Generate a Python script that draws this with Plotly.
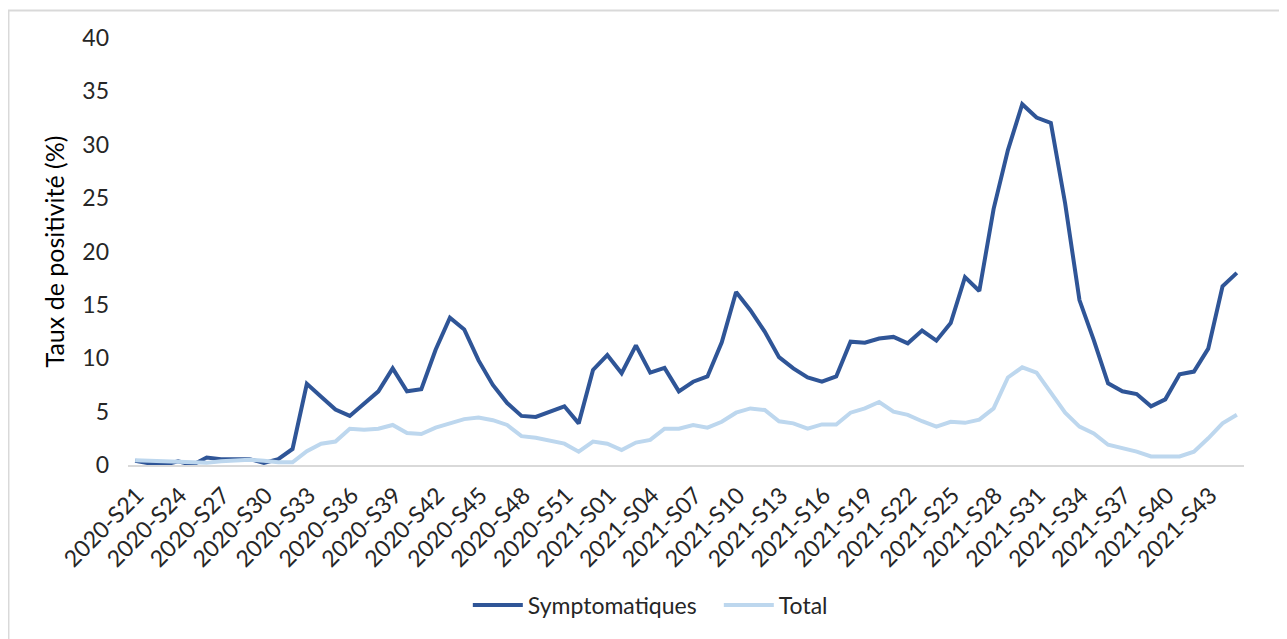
import plotly.graph_objects as go

# Categories: 2020-S21 .. 2020-S53, 2021-S01 .. 2021-S45
weeks = [f"2020-S{w:02d}" for w in range(21, 54)] + [f"2021-S{w:02d}" for w in range(1, 46)]

symptomatiques = [
    0.4, 0.15, 0.0, 0.35, 0.0, 0.7, 0.55, 0.55, 0.55, 0.2,
    0.55, 1.5, 7.6, 6.4, 5.2, 4.6, 5.7, 6.9, 9.05, 6.9,
    7.1, 10.8, 13.8, 12.7, 9.8, 7.5, 5.8, 4.6, 4.5, 5.0,
    5.5, 3.9, 8.9, 10.3, 8.6, 11.2, 8.65, 9.1, 6.9, 7.8,
    8.3, 11.5, 16.2, 14.5, 12.5, 10.1, 9.05, 8.2, 7.8, 8.3,
    11.55, 11.45, 11.85, 12.0, 11.4, 12.6, 11.65, 13.3, 17.6, 16.3,
    24.0, 29.5, 33.8, 32.55, 32.05, 24.5, 15.45, 11.7, 7.65, 6.9,
    6.65, 5.5, 6.15, 8.5, 8.75, 10.9, 16.75, 18.0,
]

total = [
    0.45, 0.4, 0.35, 0.3, 0.25, 0.2, 0.35, 0.45, 0.5, 0.4,
    0.25, 0.25, 1.3, 2.0, 2.2, 3.4, 3.3, 3.4, 3.75, 3.0,
    2.9, 3.5, 3.9, 4.3, 4.45, 4.2, 3.75, 2.7, 2.55, 2.3,
    2.0, 1.25, 2.2, 2.0, 1.4, 2.1, 2.35, 3.4, 3.4, 3.75,
    3.5, 4.05, 4.9, 5.3, 5.15, 4.1, 3.9, 3.4, 3.8, 3.8,
    4.9, 5.3, 5.9, 5.0, 4.7, 4.1, 3.6, 4.05, 3.95, 4.25,
    5.3, 8.2, 9.15, 8.65, 6.7, 4.9, 3.6, 2.95, 1.9, 1.55,
    1.25, 0.8, 0.8, 0.8, 1.25, 2.5, 3.9, 4.7,
]

tick_labels = weeks[::3]
y_ticks = [0, 5, 10, 15, 20, 25, 30, 35, 40]

FONT = "Lato"
TXT = "#262626"

fig = go.Figure()
fig.add_trace(go.Scatter(
    x=weeks, y=symptomatiques, mode="lines", name="Symptomatiques",
    line=dict(color="#2F5597", width=4),
))
fig.add_trace(go.Scatter(
    x=weeks, y=total, mode="lines", name="Total",
    line=dict(color="#BDD7EE", width=4),
))

fig.update_layout(
    width=1279, height=631,
    margin=dict(l=120, r=43, t=30, b=174),
    paper_bgcolor="white", plot_bgcolor="white",
    font=dict(family=FONT, color=TXT),
    showlegend=True,
    legend=dict(
        orientation="h", x=0.3045, xanchor="left", y=-0.328, yanchor="middle",
        font=dict(family=FONT, size=23, color=TXT),
        traceorder="normal", itemwidth=50,
        entrywidth=186, entrywidthmode="pixels",
    ),
    shapes=[dict(
        type="rect", xref="paper", yref="paper",
        x0=-0.1071, x1=1.0367, y0=-0.45, y1=1.0644,
        line=dict(color="#D9D9D9", width=2), layer="below",
    )],
)

fig.update_xaxes(
    type="category", range=[-0.5, len(weeks) - 0.5],
    tickmode="array", tickvals=tick_labels, ticktext=tick_labels,
    tickangle=-45, tickfont=dict(family=FONT, size=23, color=TXT),
    showgrid=False, showline=True, linecolor="#D9D9D9", linewidth=1.5,
    ticks="", ticklabelstandoff=6, ticklabelshift=2, zeroline=False,
)
fig.update_yaxes(
    range=[0, 40], tickvals=y_ticks,
    tickfont=dict(family=FONT, size=23, color=TXT),
    showgrid=False, zeroline=False, showline=False, ticks="",
    ticklabelstandoff=18,
    title=dict(text="Taux de positivité (%)", font=dict(family=FONT, size=25, color="#000000"), standoff=10),
)

fig.write_html("out.html")
